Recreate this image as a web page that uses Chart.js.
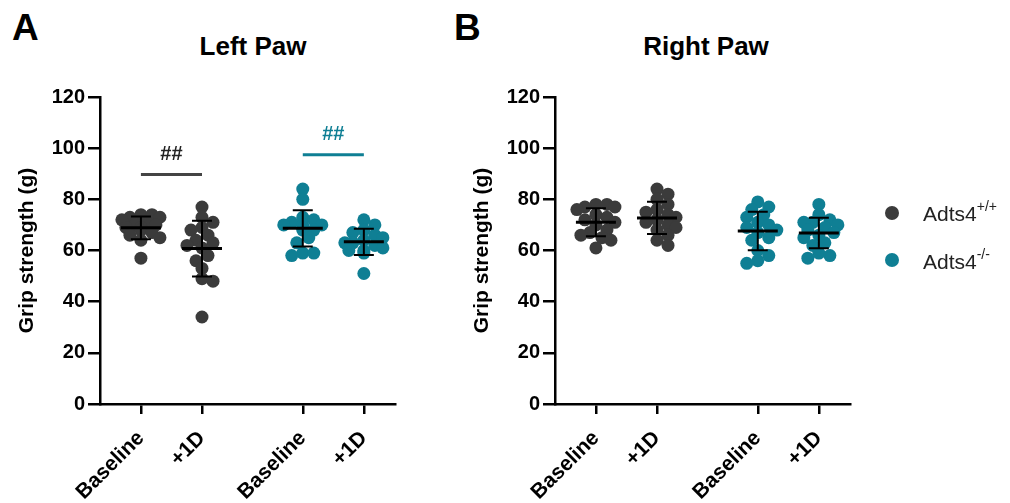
<!DOCTYPE html>
<html>
<head>
<meta charset="utf-8">
<script src="https://cdn.jsdelivr.net/npm/chart.js@4/dist/chart.umd.min.js"></script>
<style>
  body { margin: 0; background: #fff; font-family: 'Liberation Sans', Arial, sans-serif; }
  #wrap { position: relative; width: 1010px; height: 503px; overflow: hidden; }
  canvas { position: absolute; top: 0; }
  .letter { position: absolute; font-weight: bold; font-size: 37px; color: #000; }
  .title { position: absolute; font-weight: bold; font-size: 26px; color: #000; transform: translateX(-50%); white-space: nowrap; }
  .leg { position: absolute; font-size: 21px; color: #222; white-space: nowrap; }
  .leg sup { font-size: 14px; position: relative; top: -2px; }
  .dot { position: absolute; width: 14px; height: 14px; border-radius: 50%; }
</style>
</head>
<body>
<div id="wrap">
  <div class="letter" style="left:12px; top:7px;">A</div>
  <div class="letter" style="left:454px; top:7px;">B</div>
  <div class="title" style="left:253px; top:31px;">Left Paw</div>
  <div class="title" style="left:706px; top:31px;">Right Paw</div>
  <canvas id="leftChart" width="440" height="503" style="left:0px;"></canvas>
  <canvas id="rightChart" width="440" height="503" style="left:455px;"></canvas>
  <div class="dot" style="left:885px; top:206px; background:#3b3b3b;"></div>
  <div class="leg" style="left:923px; top:200px;">Adts4<sup>+/+</sup></div>
  <div class="dot" style="left:885px; top:253px; background:#0f7f94;"></div>
  <div class="leg" style="left:923px; top:248px;">Adts4<sup>-/-</sup></div>
</div>
<script>
// category labels and their positions on the x axis
const xLabels = ['Baseline', '+1D', 'Baseline', '+1D'];
const xPositions = [0, 1, 2.65, 3.65];
const yTicks = [0, 20, 40, 60, 80, 100, 120];

// Left paw grip strength (g)
const leftWtBase = [74, 74, 73, 73, 72, 71, 70, 70, 69, 69, 68, 67, 66, 65, 64, 57];
const leftWt1d   = [77, 73, 71, 69, 68, 66, 64, 63, 62, 61, 58, 56, 53, 49, 48, 34];
const leftKoBase = [84, 80, 73, 72, 71, 70, 70, 70, 69, 68, 68, 65, 63, 59, 59, 58];
const leftKo1d   = [72, 70, 68, 67, 66, 65, 64, 63, 63, 62, 61, 60, 60, 59, 51];

// Right paw grip strength (g)
const rightWtBase = [78, 78, 77, 77, 76, 74, 73, 72, 71, 70, 68, 67, 66, 65, 64, 61];
const rightWt1d   = [84, 82, 80, 78, 76, 75, 74, 73, 72, 71, 70, 69, 68, 66, 64, 62];
const rightKoBase = [79, 77, 76, 74, 73, 71, 70, 69, 68, 67, 65, 64, 60, 58, 56, 55];
const rightKo1d   = [78, 74, 72, 71, 71, 70, 69, 68, 67, 66, 65, 63, 62, 59, 58, 57];

// significance marks (left paw only): [from group, to group, line y, text y]
const sigWt = [0, 1, 89.7, 97.5];
const sigKo = [2, 3, 97.4, 105.2];

const DARK = '#3b3b3b';
const TEAL = '#0f7f94';
const FONT = "'Liberation Sans', Arial, sans-serif";

// rough px per data unit, used only for spreading dots sideways
const PX_X = 61, PX_Y = 2.558;

function swarm(values, center) {
  const placed = [];
  const sorted = values.slice().sort((a, b) => b - a);
  const steps = [0, 6, -6, 11, -11, 15, -15, 19, -19];
  sorted.forEach(v => {
    let off = 0;
    for (const s of steps) {
      const hit = placed.some(p => {
        const dx = s - p.off, dy = (v - p.v) * PX_Y;
        return Math.sqrt(dx * dx + dy * dy) < 8;
      });
      if (!hit) { off = s; break; }
    }
    placed.push({ v: v, off: off });
  });
  return placed.map(p => ({ x: center + p.off / PX_X, y: p.v }));
}

function stats(values) {
  const m = values.reduce((a, b) => a + b, 0) / values.length;
  const sd = Math.sqrt(values.reduce((a, b) => a + (b - m) * (b - m), 0) / (values.length - 1));
  return { m, sd };
}

const errorBars = {
  id: 'errorBars',
  afterDatasetsDraw(chart, args, opts) {
    const { ctx, scales: { x, y } } = chart;
    ctx.save();
    ctx.strokeStyle = '#000';
    opts.groups.forEach((vals, i) => {
      const s = stats(vals);
      const cx = x.getPixelForValue(xPositions[i]);
      const yt = y.getPixelForValue(s.m + s.sd);
      const yb = y.getPixelForValue(s.m - s.sd);
      const ym = y.getPixelForValue(s.m);
      ctx.lineWidth = 2;
      ctx.beginPath();
      ctx.moveTo(cx, yt); ctx.lineTo(cx, yb);
      ctx.moveTo(cx - 10, yt); ctx.lineTo(cx + 10, yt);
      ctx.moveTo(cx - 10, yb); ctx.lineTo(cx + 10, yb);
      ctx.stroke();
      ctx.lineWidth = 3;
      ctx.beginPath();
      ctx.moveTo(cx - 20, ym); ctx.lineTo(cx + 20, ym);
      ctx.stroke();
    });
    (opts.sig || []).forEach(sg => {
      const [a, b, ly, ty, lineCol, textCol] = sg;
      const x1 = x.getPixelForValue(xPositions[a]);
      const x2 = x.getPixelForValue(xPositions[b]);
      ctx.strokeStyle = lineCol;
      ctx.lineWidth = 3;
      ctx.beginPath();
      ctx.moveTo(x1, y.getPixelForValue(ly));
      ctx.lineTo(x2, y.getPixelForValue(ly));
      ctx.stroke();
      ctx.fillStyle = textCol;
      ctx.font = 'bold 20px ' + FONT;
      ctx.textAlign = 'center';
      ctx.textBaseline = 'middle';
      ctx.fillText('##', (x1 + x2) / 2, y.getPixelForValue(ty));
    });
    ctx.restore();
  }
};

function makeChart(id, groups, sig) {
  const colors = [DARK, DARK, TEAL, TEAL];
  const datasets = groups.map((g, i) => ({
    data: swarm(g, xPositions[i]),
    backgroundColor: colors[i],
    borderWidth: 0,
    pointRadius: 6.5,
    pointHoverRadius: 6.5
  }));
  return new Chart(document.getElementById(id), {
    type: 'scatter',
    data: { datasets },
    plugins: [errorBars],
    options: {
      responsive: false,
      animation: false,
      events: [],
      layout: { padding: { top: 97, right: 45, left: 0, bottom: 0 } },
      plugins: {
        legend: { display: false },
        tooltip: { enabled: false },
        errorBars: { groups: groups, sig: sig }
      },
      scales: {
        x: {
          type: 'linear',
          min: -0.67,
          max: 4.16,
          afterBuildTicks: s => { s.ticks = xPositions.map(v => ({ value: v })); },
          afterFit: s => { s.height = 99; },
          ticks: {
            autoSkip: false,
            minRotation: 45,
            maxRotation: 45,
            padding: 12,
            color: '#000',
            font: { family: FONT, size: 21, weight: 'bold' },
            callback: (v, i) => xLabels[i]
          },
          grid: { drawOnChartArea: false, tickLength: 10, color: '#000', lineWidth: 2.5 },
          border: { color: '#000', width: 2.5 }
        },
        y: {
          min: 0,
          max: 120,
          afterBuildTicks: s => { s.ticks = yTicks.map(v => ({ value: v })); },
          afterFit: s => { s.width = 100; },
          title: {
            display: true,
            text: 'Grip strength (g)',
            color: '#000',
            font: { family: FONT, size: 21, weight: 'bold' },
            padding: { top: 15, bottom: 0 }
          },
          ticks: {
            padding: 3,
            color: '#000',
            font: { family: FONT, size: 20, weight: 'bold' }
          },
          grid: { drawOnChartArea: false, tickLength: 12, color: '#000', lineWidth: 2.5 },
          border: { color: '#000', width: 2.5 }
        }
      }
    }
  });
}

makeChart('leftChart', [leftWtBase, leftWt1d, leftKoBase, leftKo1d],
  [sigWt.concat('#444', '#222'), sigKo.concat(TEAL, TEAL)]);
makeChart('rightChart', [rightWtBase, rightWt1d, rightKoBase, rightKo1d], []);
</script>
</body>
</html>
